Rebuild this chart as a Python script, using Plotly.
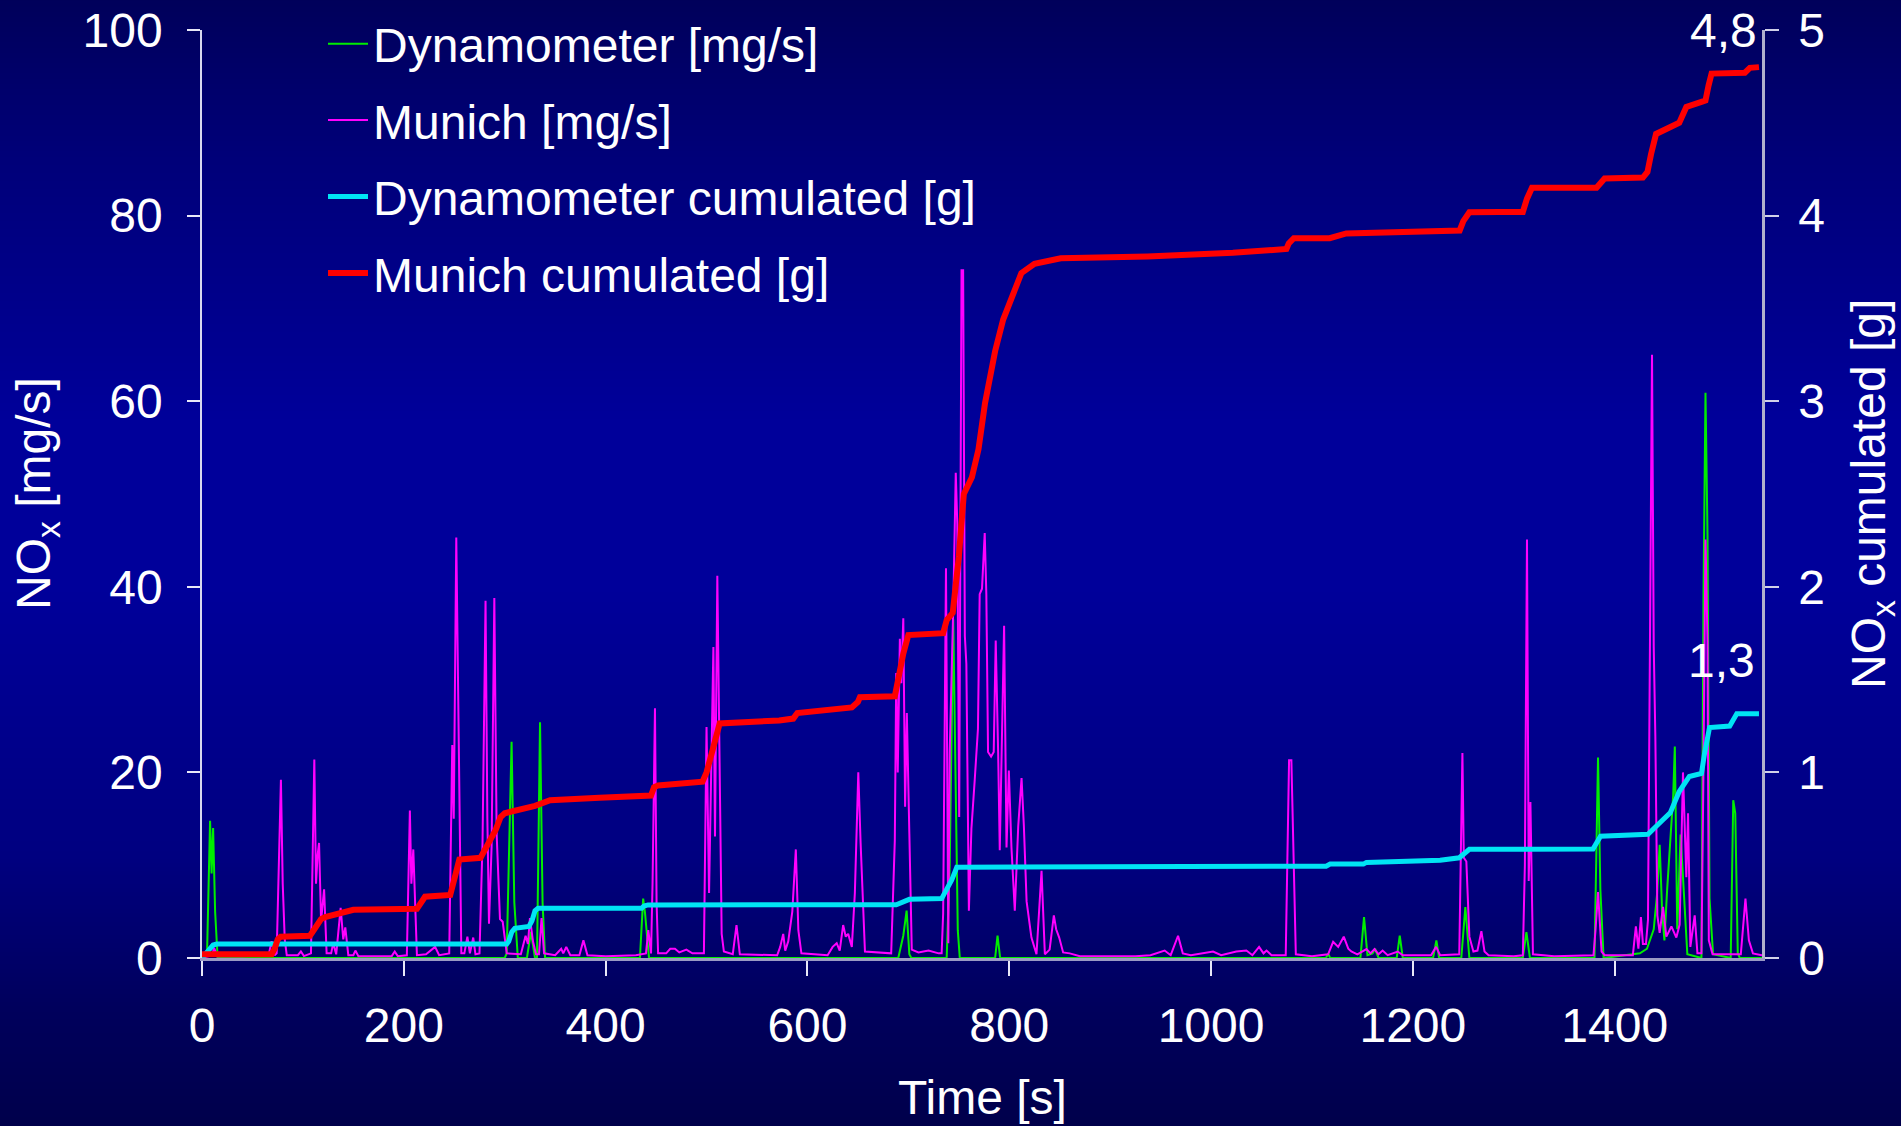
import plotly.graph_objects as go

# ---------------- data ----------------
# Dynamometer NOx [mg/s]  (time [s], value)
dyn_t = [0, 5, 8, 9.5, 11, 13, 15.5,
         300, 302, 306.8, 309.5, 313,
         322, 326, 330,
         332, 335, 337.5, 340,
         434, 437.2, 439, 443,
         690, 695, 698.3, 701, 703,
         738, 741, 744.5, 747, 749, 751,
         786, 788.4, 791,
         1114, 1116, 1118,
         1148, 1151.6, 1155, 1160, 1162.5, 1166,
         1184, 1187, 1190,
         1220, 1223.3, 1226,
         1248, 1252, 1256,
         1309, 1312.5, 1316,
         1380, 1383.5, 1385.8, 1389,
         1425, 1432, 1438.7, 1442, 1444.6, 1447, 1449.3, 1452, 1455.3, 1458, 1459.6, 1462, 1465.3, 1468.6, 1472,
         1486, 1488, 1490, 1492, 1494, 1497.5,
         1515, 1517.5, 1519.5, 1522, 1524, 1546]
dyn_v = [0, 0.5, 14.8, 9.1, 14.0, 5, 0,
         0, 0.5, 23.3, 6, 0,
         0, 2.8, 0,
         0, 25.4, 6, 0,
         0, 6.4, 4.9, 0,
         0, 2.4, 5.1, 0.4, 0,
         0, 10, 36.5, 20, 3, 0,
         0, 2.4, 0,
         0, 0.5, 0,
         0, 4.4, 0.3, 0.5, 1.0, 0,
         0, 2.4, 0,
         0, 1.9, 0,
         0, 5.5, 0,
         0, 2.8, 0,
         0, 21.6, 7.4, 0,
         0.5, 1.0, 3.1, 6.9, 12.2, 5.1, 1.9, 7.4, 12.9, 17.5, 22.8, 3.1, 13.3, 6.4, 0.4,
         0, 38.7, 60.9, 45.6, 6.4, 0.4,
         0, 17.0, 15.6, 0.5, 0, 0]

# Munich NOx [mg/s]
mun_t = [0, 10, 12, 15, 40, 66, 69, 72,
         74, 76, 78.2, 80, 82, 84,
         95, 98, 101,
         108, 110, 111.3, 113, 114.5, 116, 118, 121, 123.5,
         128, 130, 133, 137.4, 140, 142, 145,
         150, 152, 155, 188, 191, 194,
         203, 206, 207.5, 209.4, 213,
         222, 226, 231, 235,
         245, 248, 249.5, 252, 254, 257,
         260, 263, 265.5, 268.8, 271,
         275, 278, 281, 282.8, 284.4, 287, 289.7, 292, 295.3, 298, 302,
         316, 320.7, 323, 325, 328, 331,
         334, 336.5, 339,
         350, 356, 358, 361, 365,
         374, 378, 382,
         400, 430, 440, 442.3, 445, 446.5, 448.9, 450.5, 452,
         460, 464, 468.7, 473, 480, 486,
         497.4, 500, 502.5, 506.8, 508.4, 510.7, 513.4, 515, 517.2,
         526, 529.7, 533,
         570, 573, 576, 578, 581, 585, 588.5, 591, 594,
         620, 625, 629, 632, 635.4, 638, 640.4, 644, 647, 650.4, 652.7, 657,
         683, 686.6, 688, 689.5, 691.6, 693, 695, 696.8, 698.5, 701, 703.4,
         710, 720, 730,
         733, 734.5, 737.3, 739.6, 741, 744.4, 747, 748.5, 750.4, 752.7, 754.3, 756, 757.5, 760, 762.5,
         765.8, 769, 770.7, 773, 775.7, 777.3, 779, 782, 784.6, 786.6, 789, 790.6, 794.9, 797.3, 799.6,
         802.2, 805.5, 808.9, 812.2, 814.5, 817.2, 822, 827, 832, 835.3, 840, 844.2, 846.5, 849.5, 853.4,
         860, 870,
         925, 940, 954, 960, 967.3, 972, 980, 1002, 1010, 1025, 1035, 1041, 1047.6, 1052, 1055, 1060,
         1074, 1077.3, 1079.6, 1084,
         1100, 1116, 1121, 1126, 1131.5, 1136, 1139, 1145, 1154, 1158, 1162, 1166, 1170, 1175, 1185, 1190,
         1218, 1223, 1227,
         1246, 1249.1, 1250.5, 1253, 1256, 1260, 1264, 1267.9, 1271, 1275,
         1300, 1309, 1311, 1313.1, 1314.8, 1316.5, 1319,
         1340, 1379, 1381, 1383.5, 1387, 1390,
         1418, 1421, 1423.5, 1426, 1428, 1431, 1433, 1435.3, 1437, 1438.7, 1440.3, 1442.3, 1444.6,
         1447.9, 1451.2, 1456.2, 1461.1, 1464.4, 1466, 1467.7, 1471, 1472.7, 1475, 1479.3, 1482,
         1486, 1488, 1490, 1492, 1493.3, 1497,
         1525, 1529.6, 1533, 1537, 1543, 1546]
mun_v = [0, 0.3, 1.1, 0.2, 0.2, 0.3, 1.8, 0.3,
         0.5, 10, 19.2, 8, 2, 0.3,
         0.3, 0.7, 0.2,
         0.5, 12, 21.4, 8, 11, 12.4, 4, 7.4, 0.5,
         0.5, 1.6, 0.4, 5.4, 2, 3.3, 0.3,
         0.3, 0.8, 0.2, 0.2, 0.7, 0.2,
         0.3, 15.9, 8, 11.7, 0.3,
         0.4, 0.8, 1.2, 0.3,
         0.5, 22.95, 15, 45.3, 26.0, 0.5,
         0.5, 2.3, 0.5, 2.2, 0.4,
         0.5, 12.4, 38.5, 15, 3.7, 12, 38.8, 13.4, 4.2, 3.9, 0.5,
         0.4, 2.4, 1.5, 4.3, 1.8, 0.4,
         0.4, 4.3, 0.5,
         0.3, 1.0, 0.5, 1.2, 0.3,
         0.3, 1.9, 0.3,
         0.2, 0.3, 0.5, 3.0, 0.5, 8, 26.9, 6, 0.5,
         0.5, 1.0, 1.0, 0.6, 0.9, 0.5,
         0.5, 24.9, 7.0, 33.5, 13.1, 41.2, 17.0, 2.6, 0.7,
         0.4, 3.55, 0.4,
         0.3, 1.2, 2.6, 0.8, 1.8, 5, 11.7, 3, 0.5,
         0.3, 1.2, 1.6, 0.8, 3.55, 2.3, 2.6, 1.2, 7.0, 20.0, 12.4, 0.7,
         0.5, 12.7, 30.7, 20, 34.4, 29.6, 36.6, 16.3, 26.4, 13.4, 0.9,
         0.6, 0.8, 0.5,
         0.5, 4.8, 42.0, 1.6, 22.2, 37.2, 52.3, 46.8, 15.2, 74.1, 74.1, 34.7, 31.7, 5.1, 13.9,
         19.2, 24.7, 39.2, 39.8, 45.8, 39.2, 22.2, 21.7, 22.2, 34.2, 22.2, 11.6, 35.8, 11.9, 20.2,
         11.9, 5.1, 14.2, 19.4, 14.2, 6.1, 2.2, 0.4, 9.4, 0.4, 0.9, 4.6, 3.1, 2.2, 0.6,
         0.5, 0.2,
         0.2, 0.3, 0.8, 0.3, 2.4, 0.5, 0.3, 0.7, 0.3, 0.7, 0.8, 0.3, 1.2, 0.5, 0.8, 0.3,
         0.3, 21.3, 21.3, 0.4,
         0.2, 0.4, 1.75, 1.2, 2.3, 1.0, 0.7, 0.4, 0.96, 0.5, 0.96, 0.4, 0.8, 0.3, 0.7, 0.3,
         0.3, 1.2, 0.3,
         0.4, 22.1, 10.8, 10.4, 2.3, 0.7, 0.8, 2.9, 0.7, 0.3,
         0.2, 0.3, 10, 45.1, 8.3, 16.8, 0.4,
         0.2, 0.3, 3, 7.1, 0.7, 0.3,
         0.3, 3.4, 1.0, 4.4, 1.5, 1.5, 4.1, 36.4, 65.0, 33.6, 23.9, 4.6, 2.7,
         5.5, 2.3, 3.4, 2.2, 3.6, 11.0, 20.0, 8.7, 15.6, 1.2, 4.6, 0.5,
         0.5, 20.3, 45.1, 34.1, 1.9, 0.4,
         0.4, 6.4, 1.9, 0.5, 0.4, 0.3]

# Dynamometer cumulated [g]
dyn_cum_t = [0, 4.6, 8, 11, 14.5, 302, 304, 307, 310, 324, 327, 330, 333, 409, 435.6, 438, 442,
             688, 694, 701, 733, 738, 743, 748, 786, 929, 1114, 1118, 1151, 1154, 1187, 1227,
             1246, 1250, 1256, 1378.5, 1383, 1386, 1433, 1438, 1444, 1455, 1459, 1464, 1474,
             1486, 1489, 1492, 1494, 1514, 1518, 1521, 1543]
dyn_cum_v = [0.0, 0.027, 0.05, 0.07, 0.075, 0.075, 0.09, 0.14, 0.16, 0.17, 0.20, 0.255, 0.268, 0.268,
             0.268, 0.28, 0.286, 0.287, 0.30, 0.316, 0.32, 0.37, 0.42, 0.489, 0.49, 0.49, 0.495,
             0.506, 0.506, 0.515, 0.522, 0.527, 0.54, 0.56, 0.586, 0.587, 0.63, 0.656, 0.667, 0.69,
             0.725, 0.782, 0.84, 0.897, 0.978, 0.994, 1.10, 1.20, 1.242, 1.25, 1.29, 1.316, 1.316]

# Munich cumulated [g]
mun_cum_t = [0, 69, 72, 75, 78, 107, 112, 118, 122, 135, 150, 213, 217, 221, 246, 249, 252, 255,
             276, 280, 285, 291, 296, 300, 330, 345, 394, 445, 448, 452, 496, 500, 505, 510, 513,
             572, 586, 590, 644, 650, 652, 686.6, 690, 695, 700, 734.5, 738, 744, 750, 755, 763,
             769.5, 776, 786, 794, 803, 812, 825, 851, 937, 1000, 1021.6, 1074.7, 1077, 1082,
             1117.6, 1134, 1246.4, 1250, 1256, 1286, 1309, 1313, 1318, 1382, 1386, 1390, 1428,
             1432.5, 1436, 1441, 1464, 1471, 1486, 1490, 1493, 1496, 1529, 1534, 1543]
mun_cum_v = [0.02, 0.02, 0.05, 0.10, 0.115, 0.12, 0.16, 0.21, 0.22, 0.24, 0.26, 0.265, 0.30, 0.33,
             0.34, 0.40, 0.49, 0.53, 0.54, 0.58, 0.63, 0.69, 0.76, 0.78, 0.82, 0.85, 0.864, 0.875,
             0.92, 0.93, 0.95, 1.0, 1.10, 1.20, 1.264, 1.28, 1.29, 1.32, 1.35, 1.38, 1.405, 1.41,
             1.52, 1.64, 1.74, 1.75, 1.82, 1.86, 2.16, 2.50, 2.59, 2.74, 2.99, 3.27, 3.44, 3.556,
             3.69, 3.74, 3.77, 3.78, 3.79, 3.80, 3.82, 3.85, 3.878, 3.878, 3.904, 3.92, 3.97, 4.018,
             4.02, 4.02, 4.09, 4.15, 4.15, 4.18, 4.20, 4.205, 4.235, 4.33, 4.44, 4.50, 4.585,
             4.613, 4.62, 4.70, 4.765, 4.77, 4.796, 4.80]

x_ticks = [0, 200, 400, 600, 800, 1000, 1200, 1400]
y_left_ticks = [0, 20, 40, 60, 80, 100]
y_right_ticks = [0, 1, 2, 3, 4, 5]
end_labels = ["4,8", "1,3"]

# ---------------- layout geometry / style ----------------
W, H = 1901, 1126
FONT = "Arial, 'Liberation Sans', sans-serif"
FS = 48
x_dom = [202 / W, 1762 / W]
y_dom = [1 - 958 / H, 1 - 30 / H]

fig = go.Figure()

# background vertical gradient (style only)
bg_scale = [[0.0, "#000056"], [0.15, "#000078"], [0.38, "#00009a"], [0.52, "#00009a"],
            [0.75, "#000080"], [0.88, "#00005c"], [1.0, "#000048"]]
rows = [i / 40 for i in range(41)]
bg_y = [-0.02 + r * 1.04 for r in rows]
bg_z = [[1 - r, 1 - r] for r in rows]
fig.add_trace(go.Heatmap(x=[-0.05, 1.05], y=bg_y, z=bg_z, colorscale=bg_scale, zmin=0, zmax=1,
                         zsmooth="best", showscale=False, hoverinfo="skip", showlegend=False,
                         xaxis="x", yaxis="y"))

fig.add_trace(go.Scatter(x=dyn_t, y=dyn_v, mode="lines", name="Dynamometer [mg/s]",
                         line=dict(color="#00ee00", width=2), xaxis="x2", yaxis="y2",
                         legendgroup="a"))
fig.add_trace(go.Scatter(x=mun_t, y=mun_v, mode="lines", name="Munich [mg/s]",
                         line=dict(color="#ff00ff", width=2), xaxis="x2", yaxis="y2",
                         legendgroup="b"))
fig.add_trace(go.Scatter(x=dyn_cum_t, y=dyn_cum_v, mode="lines", name="Dynamometer cumulated [g]",
                         line=dict(color="#00e4f4", width=5), xaxis="x2", yaxis="y3",
                         legendgroup="c"))
fig.add_trace(go.Scatter(x=mun_cum_t, y=mun_cum_v, mode="lines", name="Munich cumulated [g]",
                         line=dict(color="#ff0000", width=6), xaxis="x2", yaxis="y3",
                         legendgroup="d"))

tickfont = dict(family=FONT, size=FS, color="white")

fig.update_layout(
    width=W, height=H,
    margin=dict(l=0, r=0, t=0, b=0, autoexpand=False),
    paper_bgcolor="#000050",
    plot_bgcolor="rgba(0,0,0,0)",
    font=dict(family=FONT, color="white", size=FS),
    xaxis=dict(domain=[0, 1], range=[0, 1], visible=False, fixedrange=True, automargin=False),
    yaxis=dict(domain=[0, 1], range=[0, 1], visible=False, fixedrange=True, automargin=False),
    xaxis2=dict(domain=x_dom, anchor="y2", range=[0, 1546], tickmode="array", tickvals=x_ticks,
                ticks="outside", ticklen=15, tickwidth=1.5, tickcolor="#e8e8f8",
                showline=True, linecolor="#9a9ac4", linewidth=3, showgrid=False, zeroline=False,
                tickfont=tickfont, ticklabelstandoff=8, automargin=False),
    yaxis2=dict(domain=y_dom, anchor="x2", range=[0, 100], tickmode="array", tickvals=y_left_ticks,
                ticks="outside", ticklen=13, tickwidth=1.5, tickcolor="#e8e8f8",
                showline=True, linecolor="#d8d8ee", linewidth=1.5, showgrid=False, zeroline=False,
                tickfont=tickfont, ticklabelstandoff=15, automargin=False),
    yaxis3=dict(overlaying="y2", anchor="x2", side="right", range=[0, 5], tickmode="array",
                tickvals=y_right_ticks, ticks="outside", ticklen=14, tickwidth=1.5,
                tickcolor="#d0d0e8", showline=True, linecolor="#b0b0cc", linewidth=2.5,
                showgrid=False, zeroline=False, tickfont=tickfont, ticklabelstandoff=10,
                automargin=False),
    legend=dict(x=323 / W, y=1 - 6 / H, xanchor="left", yanchor="top",
                bgcolor="rgba(0,0,0,0)", font=dict(family=FONT, size=FS, color="white"),
                tracegroupgap=11, itemwidth=40),
    showlegend=True,
)

ann = [
    dict(text="NO<sub>x</sub> [mg/s]", x=37 / W, y=1 - 494 / H, textangle=-90),
    dict(text="NO<sub>x</sub> cumulated [g]", x=1872 / W, y=1 - 494 / H, textangle=-90),
    dict(text="Time [s]", x=982 / W, y=1 - 1097 / H, textangle=0),
    dict(text=end_labels[0], x=1723 / W, y=1 - 30 / H, textangle=0),
    dict(text=end_labels[1], x=1721 / W, y=1 - 660 / H, textangle=0),
]
for a in ann:
    fig.add_annotation(xref="paper", yref="paper", showarrow=False, xanchor="center",
                       yanchor="middle", font=dict(family=FONT, size=FS, color="white"), **a)

fig.write_html("out.html")
